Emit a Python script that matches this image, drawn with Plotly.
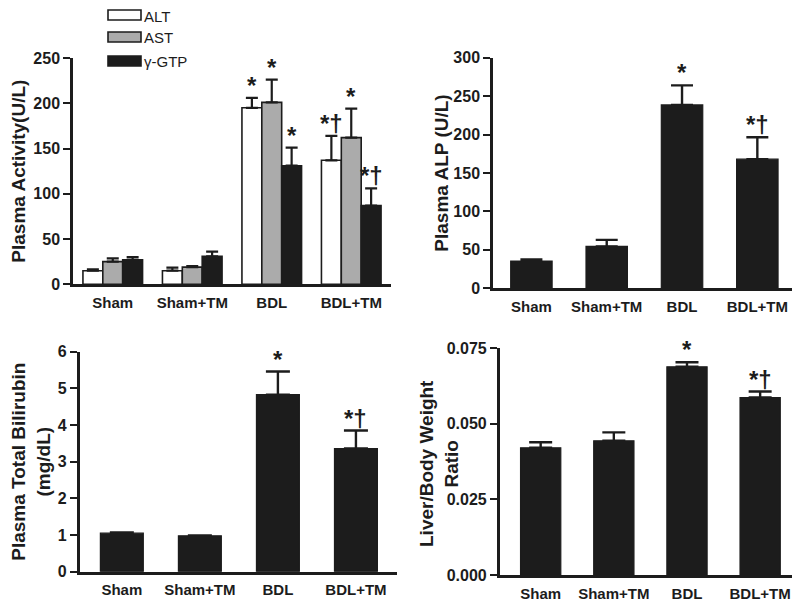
import plotly.graph_objects as go

# ---------------- data ----------------
categories = ["Sham", "Sham+TM", "BDL", "BDL+TM"]

# Panel A: plasma enzyme activity (U/L)
series_names = ["ALT", "AST", "γ-GTP"]
alt_mean = [15, 15, 195, 137]
alt_err = [1.6, 3.5, 11, 27]
ast_mean = [25, 19, 201, 162]
ast_err = [3.7, 1.2, 25, 32]
gtp_mean = [27, 31, 131, 87]
gtp_err = [3, 5, 20, 19]
alt_marks = ["", "", "*", "*†"]
ast_marks = ["", "", "*", "*"]
gtp_marks = ["", "", "*", "*†"]

# Panel B: plasma ALP (U/L)
alp_mean = [35.5, 54.5, 238.5, 168]
alp_err = [2, 8.5, 25.5, 28.5]
alp_marks = ["", "", "*", "*†"]

# Panel C: plasma total bilirubin (mg/dL)
bili_mean = [1.05, 0.98, 4.83, 3.36]
bili_err = [0.02, 0.01, 0.63, 0.49]
bili_marks = ["", "", "*", "*†"]

# Panel D: liver / body weight ratio
ratio_mean = [0.0421, 0.0444, 0.0689, 0.0587]
ratio_err = [0.0018, 0.0028, 0.0015, 0.0020]
ratio_marks = ["", "", "*", "*†"]

activity_ticks = [0, 50, 100, 150, 200, 250]
alp_ticks = [0, 50, 100, 150, 200, 250, 300]
bili_ticks = [0, 1, 2, 3, 4, 5, 6]
ratio_ticks = [0, 0.025, 0.05, 0.075]

titles = ["Plasma Activity(U/L)", "Plasma ALP (U/L)",
          "Plasma Total Bilirubin<br>(mg/dL)", "Liver/Body Weight<br>Ratio"]

# ---------------- style ----------------
W, H = 800, 608
OFF_X, OFF_Y = 0, 8
BLACK = "#1c1c1c"
GRAY = "#ababab"
WHITE = "#ffffff"
FONT = "Liberation Sans, Arial, Helvetica, sans-serif"
xpos = list(range(len(categories)))


def px_x(v):
    return (v - OFF_X) / W


def px_y(v):
    return 1 - (v - OFF_Y) / H


fig = go.Figure()

# Panel A grouped bars
groupA = [
    (series_names[0], alt_mean, alt_err, alt_marks, WHITE, -0.375),
    (series_names[1], ast_mean, ast_err, ast_marks, GRAY, -0.125),
    (series_names[2], gtp_mean, gtp_err, gtp_marks, BLACK, 0.125),
]
bw_a = 0.25
annotations = []
for name, mean, err, marks, color, off in groupA:
    fig.add_trace(go.Bar(
        x=xpos, y=mean, name=name, width=bw_a, offset=off,
        marker=dict(color=color, line=dict(color=BLACK, width=1.6)),
        error_y=dict(type="data", array=err, arrayminus=[0] * len(err),
                     symmetric=False, color=BLACK, thickness=2.2, width=6),
        xaxis="x", yaxis="y", showlegend=False,
    ))
    for i, m in enumerate(marks):
        if m:
            annotations.append(dict(
                x=xpos[i] + off + bw_a / 2, y=mean[i] + err[i], xref="x", yref="y",
                text=m, showarrow=False, yanchor="bottom", yshift=-3,
                font=dict(family=FONT, size=24, color=BLACK, weight="bold")))

# Single-series panels
singles = [
    (alp_mean, alp_err, alp_marks, "x2", "y2", 11),
    (bili_mean, bili_err, bili_marks, "x3", "y3", 12),
    (ratio_mean, ratio_err, ratio_marks, "x4", "y4", 11.5),
]
bw = 0.55
for mean, err, marks, xa, ya, capw in singles:
    fig.add_trace(go.Bar(
        x=xpos, y=mean, width=bw,
        marker=dict(color=BLACK, line=dict(color=BLACK, width=1.2)),
        error_y=dict(type="data", array=err, arrayminus=[0] * len(err),
                     symmetric=False, color=BLACK, thickness=2.4, width=capw),
        xaxis=xa, yaxis=ya, showlegend=False,
    ))
    for i, m in enumerate(marks):
        if m:
            annotations.append(dict(
                x=xpos[i], y=mean[i] + err[i], xref=xa, yref=ya,
                text=m, showarrow=False, yanchor="bottom", yshift=-3,
                font=dict(family=FONT, size=24, color=BLACK, weight="bold")))

# Legend for panel A (wide swatches like the original)
shapes = []
legend_rows = [(10, 20), (32, 42), (56, 66)]
legend_colors = [WHITE, GRAY, BLACK]
for (y0, y1), col, name in zip(legend_rows, legend_colors, series_names):
    shapes.append(dict(type="rect", xref="paper", yref="paper",
                       x0=px_x(100), x1=px_x(133), y0=px_y(y1), y1=px_y(y0),
                       fillcolor=col, line=dict(color=BLACK, width=1.6)))
    annotations.append(dict(x=px_x(135), y=px_y((y0 + y1) / 2 + 1), xref="paper", yref="paper",
                            text=name, showarrow=False, xanchor="left", yanchor="middle",
                            borderpad=0, font=dict(family=FONT, size=15, color=BLACK)))

# Panel D y title placed as rotated text next to its axis
annotations.append(dict(x=px_x(431), y=px_y(463), xref="paper", yref="paper",
                        text=titles[3], showarrow=False, textangle=-90,
                        xanchor="center", yanchor="middle",
                        font=dict(family=FONT, size=19, color=BLACK, weight="bold")))


def xaxis_cfg(dom, rng):
    return dict(domain=dom, range=rng, tickvals=xpos, ticktext=categories,
                showline=True, linecolor=BLACK, linewidth=2.5, ticks="",
                ticklabelstandoff=3, showgrid=False, zeroline=False, automargin=False,
                tickfont=dict(family=FONT, size=15, color=BLACK, weight="bold"))


def yaxis_cfg(dom, rng, ticks, title, fmt=None, standoff=0):
    d = dict(domain=dom, range=rng, tickvals=ticks, showline=True, linecolor=BLACK,
             linewidth=2.5, ticks="outside", ticklen=7, tickwidth=2, tickcolor=BLACK,
             showgrid=False, zeroline=False, automargin=False,
             tickfont=dict(family=FONT, size=16, color=BLACK, weight="bold"))
    if title:
        d["title"] = dict(text=title, standoff=standoff,
                          font=dict(family=FONT, size=19, color=BLACK, weight="bold"))
    if fmt:
        d["tickformat"] = fmt
    return d


fig.update_layout(
    template="none",
    width=W, height=H, margin=dict(l=0, r=0, t=0, b=0, pad=0, autoexpand=False),
    paper_bgcolor="white", plot_bgcolor="white",
    barmode="overlay", showlegend=False,
    font=dict(family=FONT, color=BLACK),
    xaxis=dict(xaxis_cfg([px_x(65), px_x(383)], [-0.5, 3.5]), anchor="y"),
    yaxis=dict(yaxis_cfg([px_y(284.3), px_y(58)], [0, 250], activity_ticks,
                         titles[0], standoff=8), anchor="x"),
    xaxis2=dict(xaxis_cfg([px_x(485), px_x(787)], [-0.51, 3.5]), anchor="y2"),
    yaxis2=dict(yaxis_cfg([px_y(288.3), px_y(57.7)], [0, 300], alp_ticks,
                          titles[1], standoff=0), anchor="x2"),
    xaxis3=dict(xaxis_cfg([px_x(71.7), px_x(389.3)], [-0.54, 3.53]), anchor="y3"),
    yaxis3=dict(yaxis_cfg([px_y(571.7), px_y(351.7)], [0, 6], bili_ticks,
                          titles[2], standoff=7), anchor="x3"),
    xaxis4=dict(xaxis_cfg([px_x(491.7), px_x(788)], [-0.56, 3.49]), anchor="y4"),
    yaxis4=dict(yaxis_cfg([px_y(575), px_y(348.3)], [0, 0.075], ratio_ticks,
                          None, fmt=".3f"), anchor="x4"),
    annotations=annotations, shapes=shapes,
)

fig.write_html("out.html")
